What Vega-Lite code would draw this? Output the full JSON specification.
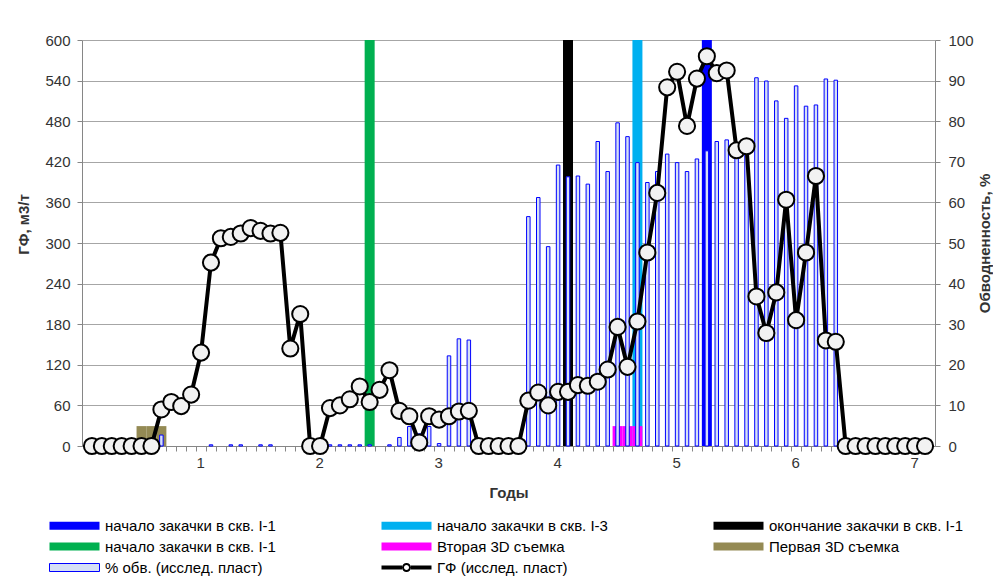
{
  "$schema": "https://vega.github.io/schema/vega-lite/v6.json",
  "width": 853,
  "height": 406,
  "autosize": {"type": "none"},
  "padding": {"left": 82, "top": 40, "right": 58, "bottom": 130},
  "background": "white",
  "config": {
    "view": {"stroke": null},
    "font": "Liberation Sans",
    "axis": {
      "labelFont": "Liberation Sans",
      "titleFont": "Liberation Sans",
      "labelFontSize": 15,
      "titleFontSize": 15,
      "titleFontWeight": "bold",
      "labelColor": "#333333",
      "titleColor": "#333333",
      "domainColor": "#868686",
      "tickColor": "#868686",
      "gridColor": "#a6a6a6",
      "tickSize": 5
    }
  },
  "datasets": {
    "monthly": [
      {"month": 1, "gf": 0, "pct": null},
      {"month": 2, "gf": 0, "pct": null},
      {"month": 3, "gf": 0, "pct": null},
      {"month": 4, "gf": 0, "pct": null},
      {"month": 5, "gf": 0, "pct": null},
      {"month": 6, "gf": 0, "pct": null},
      {"month": 7, "gf": 0, "pct": null},
      {"month": 8, "gf": 54, "pct": 2.7},
      {"month": 9, "gf": 65, "pct": null},
      {"month": 10, "gf": 59, "pct": null},
      {"month": 11, "gf": 76, "pct": null},
      {"month": 12, "gf": 138, "pct": null},
      {"month": 13, "gf": 271, "pct": 0.3},
      {"month": 14, "gf": 307, "pct": null},
      {"month": 15, "gf": 309, "pct": 0.3},
      {"month": 16, "gf": 314, "pct": 0.3},
      {"month": 17, "gf": 322, "pct": null},
      {"month": 18, "gf": 318, "pct": 0.3},
      {"month": 19, "gf": 314, "pct": 0.3},
      {"month": 20, "gf": 315, "pct": null},
      {"month": 21, "gf": 144, "pct": null},
      {"month": 22, "gf": 195, "pct": null},
      {"month": 23, "gf": 0, "pct": null},
      {"month": 24, "gf": 0, "pct": null},
      {"month": 25, "gf": 56, "pct": 0.3},
      {"month": 26, "gf": 60, "pct": 0.3},
      {"month": 27, "gf": 69, "pct": 0.3},
      {"month": 28, "gf": 88, "pct": 0.3},
      {"month": 29, "gf": 65, "pct": 0.3},
      {"month": 30, "gf": 83, "pct": null},
      {"month": 31, "gf": 112, "pct": 0.3},
      {"month": 32, "gf": 52, "pct": 2.1},
      {"month": 33, "gf": 44, "pct": 4.8},
      {"month": 34, "gf": 5, "pct": 3},
      {"month": 35, "gf": 44, "pct": 4.8},
      {"month": 36, "gf": 39, "pct": 0.6},
      {"month": 37, "gf": 44, "pct": 22.2},
      {"month": 38, "gf": 51, "pct": 26.4},
      {"month": 39, "gf": 52, "pct": 26.1},
      {"month": 40, "gf": 0, "pct": null},
      {"month": 41, "gf": 0, "pct": null},
      {"month": 42, "gf": 0, "pct": null},
      {"month": 43, "gf": 0, "pct": null},
      {"month": 44, "gf": 0, "pct": null},
      {"month": 45, "gf": 67, "pct": 56.5},
      {"month": 46, "gf": 79, "pct": 61.2},
      {"month": 47, "gf": 60, "pct": 49.1},
      {"month": 48, "gf": 80, "pct": 69.2},
      {"month": 49, "gf": 80, "pct": 66.3},
      {"month": 50, "gf": 90, "pct": 66.5},
      {"month": 51, "gf": 89, "pct": 64.5},
      {"month": 52, "gf": 95, "pct": 75},
      {"month": 53, "gf": 113, "pct": 67.6},
      {"month": 54, "gf": 176, "pct": 79.6},
      {"month": 55, "gf": 117, "pct": 76.2},
      {"month": 56, "gf": 184, "pct": 69.8},
      {"month": 57, "gf": 286, "pct": 64.9},
      {"month": 58, "gf": 374, "pct": 67.6},
      {"month": 59, "gf": 530, "pct": 71.9},
      {"month": 60, "gf": 553, "pct": 69.8},
      {"month": 61, "gf": 473, "pct": 67.6},
      {"month": 62, "gf": 543, "pct": 70.7},
      {"month": 63, "gf": 576, "pct": 72.7},
      {"month": 64, "gf": 551, "pct": 75},
      {"month": 65, "gf": 555, "pct": 75.4},
      {"month": 66, "gf": 437, "pct": 71},
      {"month": 67, "gf": 443, "pct": 72},
      {"month": 68, "gf": 221, "pct": 90.7},
      {"month": 69, "gf": 167, "pct": 89.9},
      {"month": 70, "gf": 227, "pct": 85},
      {"month": 71, "gf": 364, "pct": 80.7},
      {"month": 72, "gf": 186, "pct": 88.7},
      {"month": 73, "gf": 286, "pct": 83.7},
      {"month": 74, "gf": 399, "pct": 84},
      {"month": 75, "gf": 156, "pct": 90.4},
      {"month": 76, "gf": 154, "pct": 90.1},
      {"month": 77, "gf": 0, "pct": null},
      {"month": 78, "gf": 0, "pct": null},
      {"month": 79, "gf": 0, "pct": null},
      {"month": 80, "gf": 0, "pct": null},
      {"month": 81, "gf": 0, "pct": null},
      {"month": 82, "gf": 0, "pct": null},
      {"month": 83, "gf": 0, "pct": null},
      {"month": 84, "gf": 0, "pct": null},
      {"month": 85, "gf": 0, "pct": null}
    ],
    "events": [
      {"month": 6, "series": "seis3d_1", "value": 4.9},
      {"month": 7, "series": "seis3d_1", "value": 4.9},
      {"month": 8, "series": "seis3d_1", "value": 4.9},
      {"month": 29, "series": "start_I1_green", "value": 100},
      {"month": 49, "series": "end_I1", "value": 100},
      {"month": 56, "series": "start_I3", "value": 100},
      {"month": 54, "series": "seis3d_2", "value": 4.9},
      {"month": 55, "series": "seis3d_2", "value": 4.9},
      {"month": 56, "series": "seis3d_2", "value": 4.9},
      {"month": 63, "series": "start_I1_blue", "value": 100}
    ]
  },
  "encoding": {
    "x": {
      "field": "month",
      "type": "quantitative",
      "title": "Годы",
      "scale": {"domain": [0.5, 85.5], "nice": false, "zero": false},
      "axis": {
        "values": [0.5,1.5,2.5,3.5,4.5,5.5,6.5,7.5,8.5,9.5,10.5,11.5,12.5,13.5,14.5,15.5,16.5,17.5,18.5,19.5,20.5,21.5,22.5,23.5,24.5,25.5,26.5,27.5,28.5,29.5,30.5,31.5,32.5,33.5,34.5,35.5,36.5,37.5,38.5,39.5,40.5,41.5,42.5,43.5,44.5,45.5,46.5,47.5,48.5,49.5,50.5,51.5,52.5,53.5,54.5,55.5,56.5,57.5,58.5,59.5,60.5,61.5,62.5,63.5,64.5,65.5,66.5,67.5,68.5,69.5,70.5,71.5,72.5,73.5,74.5,75.5,76.5,77.5,78.5,79.5,80.5,81.5,82.5,83.5,84.5,85.5],
        "labelExpr": "(datum.value + 0.5) % 12 === 0 ? '' + ((datum.value + 0.5) / 12) : ''",
        "labelOffset": 4,
        "labelOverlap": false,
        "labelFlush": false,
        "labelAngle": 0,
        "grid": false,
        "title": "Годы",
        "labelPadding": 4,
        "titlePadding": 15
      }
    }
  },
  "layer": [
    {
      "layer": [
        {
          "data": {"name": "events"},
          "mark": {"type": "bar", "size": 10, "orient": "vertical"},
          "encoding": {
            "y": {
              "field": "value",
              "type": "quantitative",
              "stack": null,
              "title": "Обводненность, %",
              "scale": {"domain": [0, 100], "nice": false},
              "axis": {
                "orient": "right",
                "values": [0, 10, 20, 30, 40, 50, 60, 70, 80, 90, 100],
                "title": "Обводненность, %",
                "titleAngle": 270,
                "grid": false,
                "labelPadding": 8,
                "titlePadding": 19
              }
            },
            "color": {
              "field": "series",
              "type": "nominal",
              "scale": {
                "domain": ["start_I1_blue", "start_I1_green", "pct", "start_I3", "seis3d_2", "gf", "end_I1", "seis3d_1"],
                "range": ["#0000ff", "#00b050", "#d6e0f5", "#00b0f0", "#ff00ff", "#000000", "#000000", "#948a54"]
              },
              "legend": {
                "orient": "none",
                "legendX": -35,
                "legendY": 478,
                "columns": 3,
                "columnPadding": 103,
                "rowPadding": 5,
                "title": null,
                "padding": 0,
                "symbolSize": 100,
                "labelOffset": 43,
                "labelFontSize": 15,
                "labelFont": "Liberation Sans",
                "labelColor": "#000000",
                "labelLimit": 400,
                "labelExpr": "datum.value === 'start_I1_blue' ? 'начало закачки в скв. I-1' : datum.value === 'start_I3' ? 'начало закачки в скв. I-3' : datum.value === 'end_I1' ? 'окончание закачки в скв. I-1' : datum.value === 'start_I1_green' ? 'начало закачки в скв. I-1' : datum.value === 'seis3d_2' ? 'Вторая 3D съемка' : datum.value === 'seis3d_1' ? 'Первая 3D съемка' : datum.value === 'pct' ? '% обв. (исслед. пласт)' : 'ГФ (исслед. пласт)'",
                "encode": {
                  "symbols": {
                    "update": {
                      "shape": {"signal": "datum.value === 'gf' ? 'M-1,-0.4H3.1V0.4H-1Z M4.9,-0.4H9V0.4H4.9Z M3.1,0A0.9,0.9 0 1,1 4.9,0A0.9,0.9 0 1,1 3.1,0Z M3.5,0A0.5,0.5 0 1,0 4.5,0A0.5,0.5 0 1,0 3.5,0Z' : 'M-1,-0.8H9V0.8H-1Z'"},
                      "fill": {"signal": "datum.value === 'start_I1_blue' ? '#0000ff' : datum.value === 'start_I3' ? '#00b0f0' : datum.value === 'end_I1' ? '#000000' : datum.value === 'start_I1_green' ? '#00b050' : datum.value === 'seis3d_2' ? '#ff00ff' : datum.value === 'seis3d_1' ? '#948a54' : datum.value === 'pct' ? '#d6e0f5' : '#000000'"},
                      "stroke": {"signal": "datum.value === 'pct' ? '#0000ff' : 'transparent'"},
                      "strokeWidth": {"signal": "datum.value === 'pct' ? 1 : 0"},
                      "opacity": {"value": 1}
                    }
                  }
                }
              }
            }
          }
        },
        {
          "data": {"name": "monthly"},
          "mark": {"type": "bar", "size": 3.5, "orient": "vertical", "fill": "#d6e0f5", "stroke": "#0000ff", "strokeWidth": 1},
          "encoding": {
            "y": {"field": "pct", "type": "quantitative", "stack": null, "title": "Обводненность, %"}
          }
        }
      ]
    },
    {
      "layer": [
        {
          "data": {"name": "monthly"},
          "mark": {"type": "line", "color": "#000000", "strokeWidth": 4},
          "encoding": {
            "y": {
              "field": "gf",
              "type": "quantitative",
              "title": "ГФ, м3/т",
              "scale": {"domain": [0, 600], "nice": false},
              "axis": {
                "orient": "left",
                "values": [0, 60, 120, 180, 240, 300, 360, 420, 480, 540, 600],
                "title": "ГФ, м3/т",
                "titleY": 184,
                "grid": true,
                "labelPadding": 7,
                "titlePadding": 13
              }
            }
          }
        },
        {
          "data": {"name": "monthly"},
          "mark": {"type": "point", "filled": true, "fill": "#f2f2f2", "stroke": "#000000", "strokeWidth": 2, "size": 260, "opacity": 1},
          "encoding": {
            "y": {"field": "gf", "type": "quantitative", "title": "ГФ, м3/т"}
          }
        }
      ]
    }
  ],
  "resolve": {"scale": {"y": "independent"}}
}
